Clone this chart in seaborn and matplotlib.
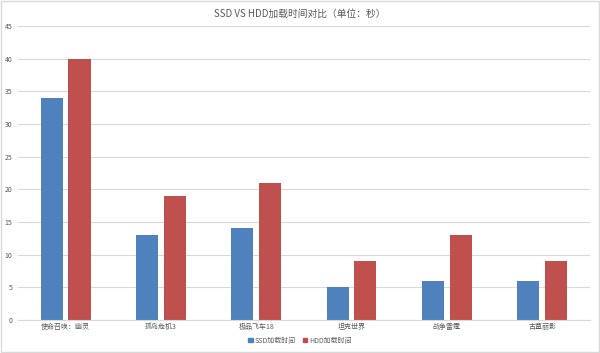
import matplotlib
matplotlib.use("Agg")
import matplotlib.pyplot as plt
import matplotlib.patches as mpatches
import pandas as pd
import seaborn as sns

games = ["使命召唤：幽灵", "孤岛危机3", "极品飞车18", "坦克世界", "战争雷霆", "古墓丽影"]
ssd_times = [34, 13, 14, 5, 6, 6]
hdd_times = [40, 19, 21, 9, 13, 9]
series = ["SSD加载时间", "HDD加载时间"]
y_ticks = list(range(0, 50, 5))

df = pd.DataFrame({
    "game": games * 2,
    "series": [series[0]] * len(games) + [series[1]] * len(games),
    "seconds": ssd_times + hdd_times,
})

sns.set_style("white")
plt.rcParams["font.family"] = ["Noto Sans CJK SC", "DejaVu Sans"]

fig = plt.figure(figsize=(6, 3.53), dpi=100)
ax = fig.add_axes([0.03, 0.094, 0.953, 0.832])

sns.barplot(
    data=df, x="game", y="seconds", hue="series",
    palette=["#4F81BD", "#C0504D"], width=0.58, gap=0.2,
    saturation=1, legend=False, linewidth=0, ax=ax,
)

ax.set_ylim(0, 45)
ax.set_yticks(y_ticks)
ax.yaxis.grid(True, color="#D9D9D9", linewidth=0.8)
ax.set_axisbelow(True)
for s in ["top", "right", "left"]:
    ax.spines[s].set_visible(False)
ax.spines["bottom"].set_color("#D9D9D9")
ax.tick_params(axis="both", length=0, labelsize=5, colors="#595959", pad=2)
ax.tick_params(axis="y", pad=4)
ax.set_xlabel("")
ax.set_ylabel("")

fig.suptitle("SSD VS HDD加载时间对比（单位：秒）", y=0.975, fontsize=7, color="#595959")

handles = [mpatches.Patch(color=c) for c in ["#4F81BD", "#C0504D"]]
fig.legend(handles, series, loc="center", bbox_to_anchor=(0.5, 0.035), ncol=2,
           frameon=False, fontsize=5, handlelength=0.6, handleheight=0.6,
           handletextpad=0.3, columnspacing=1.0, labelcolor="#595959")

fig.patches.append(mpatches.Rectangle((0.002, 0.003), 0.996, 0.994, transform=fig.transFigure,
                                      fill=False, edgecolor="#D9D9D9", linewidth=1))

fig.savefig("out.png", dpi=100)
